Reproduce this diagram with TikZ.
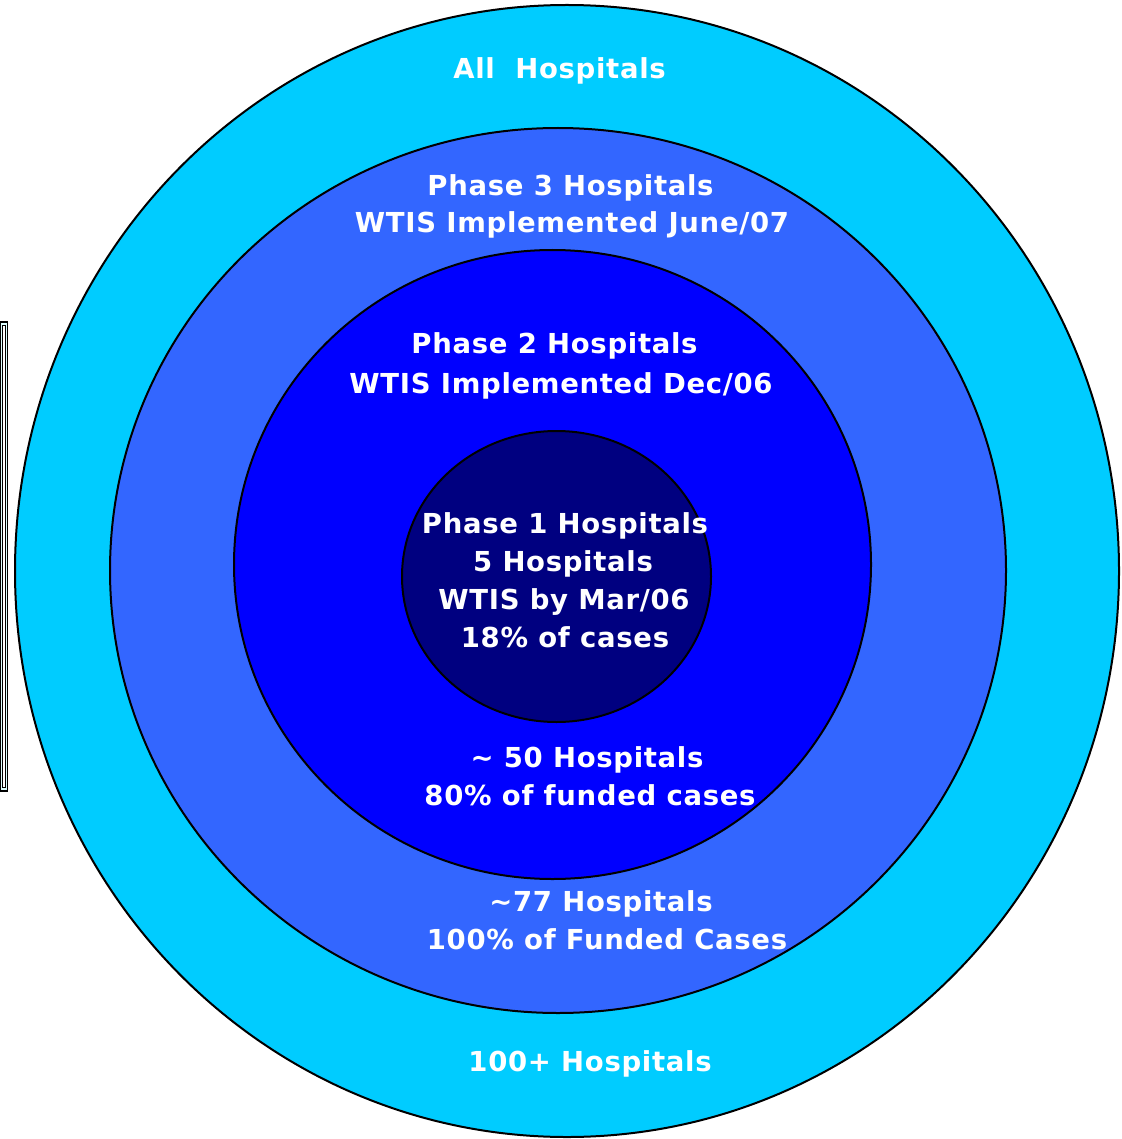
\documentclass[tikz,border=0pt]{standalone}
\usepackage{fontspec}
\setmainfont{DejaVu Sans}
\newfontfamily\labelfont[LetterSpace=2.5]{DejaVu Sans}
\usetikzlibrary{shapes.geometric}
\definecolor{ringA}{HTML}{00CCFF}
\definecolor{ringB}{HTML}{3366FF}
\definecolor{ringC}{HTML}{0000FF}
\definecolor{ringD}{HTML}{000080}
\definecolor{paleframe}{HTML}{DDFFFF}
\begin{document}
\begin{tikzpicture}[x=1pt,y=-1pt,
  ring/.style={ellipse, draw=black, line width=2pt, inner sep=0pt, outer sep=0pt},
  lbl/.style={anchor=base, text=white, inner sep=0pt,
    font=\labelfont\fontsize{27.5}{38}\selectfont\bfseries}]
\useasboundingbox (0,0) rectangle (1121,1139);
\fill[white] (0,0) rectangle (1121,1139);

% double-lined frame at the left edge
\draw[black, line width=1.2pt, fill=paleframe] (0.5,322) rectangle (7.8,791);
\draw[black, line width=1.2pt, fill=white] (2.8,325.3) rectangle (5.2,787.7);

% nested rings
\node[ring, fill=ringA, minimum width=1104pt, minimum height=1132pt] (all) at (567,571) {};
\node[ring, fill=ringB, minimum width=896pt, minimum height=885pt] (ph3) at (558,570.5) {};
\node[ring, fill=ringC, minimum width=637pt, minimum height=629pt] (ph2) at (552.5,564.5) {};
\node[ring, fill=ringD, minimum width=309pt, minimum height=291pt] (ph1) at (556.5,576.5) {};

% labels
\node[lbl] (tAll) at (559.5,79) {All\ \ Hospitals};
\node[lbl] (t3a) at (570.5,196) {Phase 3 Hospitals};
\node[lbl] (t3b) at (572,233) {WTIS Implemented June/07};
\node[lbl] (t2a) at (554.5,353) {Phase 2 Hospitals};
\node[lbl] (t2b) at (561,393) {WTIS Implemented Dec/06};
\node[lbl] (t1a) at (565,533) {Phase 1 Hospitals};
\node[lbl] (t1b) at (563,571) {5 Hospitals};
\node[lbl] (t1c) at (564,609) {WTIS by Mar/06};
\node[lbl] (t1d) at (565,647) {18\% of cases};
\node[lbl] (t50a) at (587,767) {\textasciitilde{} 50 Hospitals};
\node[lbl] (t50b) at (590,805) {80\% of funded cases};
\node[lbl] (t77a) at (601,911) {\textasciitilde77 Hospitals};
\node[lbl] (t77b) at (607,949) {100\% of Funded Cases};
\node[lbl] (t100) at (590,1071) {100+ Hospitals};
\end{tikzpicture}
\end{document}
